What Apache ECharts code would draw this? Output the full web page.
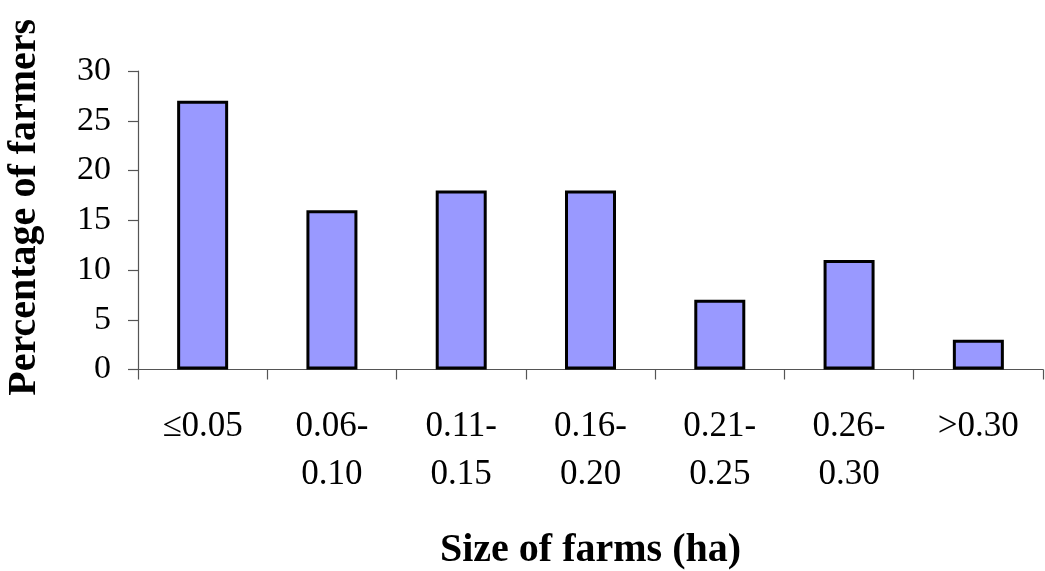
<!DOCTYPE html>
<html>
<head>
<meta charset="utf-8">
<script src="https://cdn.jsdelivr.net/npm/echarts@6/dist/echarts.min.js"></script>
<style>
html,body{margin:0;padding:0;background:#fff;}
#chart{width:1045px;height:571px;}
</style>
</head>
<body>
<div id="chart"></div>
<script>
const categories = ['\u22640.05', '0.06-\n0.10', '0.11-\n0.15', '0.16-\n0.20', '0.21-\n0.25', '0.26-\n0.30', '>0.30'];
const percentages = [27, 16, 18, 18, 7, 11, 3];
const yTicks = { min: 0, max: 30, interval: 5 };

const chart = echarts.init(document.getElementById('chart'));
const font = '"Liberation Serif", "Times New Roman", serif';
chart.setOption({
  animation: false,
  backgroundColor: '#ffffff',
  grid: { left: 138, right: 2, top: 71, bottom: 201.5, containLabel: false, outerBoundsMode: 'none' },
  xAxis: {
    type: 'category',
    data: categories,
    name: 'Size of farms (ha)',
    nameLocation: 'middle',
    nameGap: 161,
    nameTextStyle: { fontFamily: font, fontSize: 40, fontWeight: 'bold', color: '#000' },
    axisLine: { lineStyle: { color: '#555', width: 1.2 } },
    axisTick: { show: true, length: 10, lineStyle: { color: '#555', width: 1.2 } },
    axisLabel: { fontFamily: font, fontSize: 35, color: '#000', margin: 34, lineHeight: 47.5, interval: 0 }
  },
  yAxis: {
    type: 'value',
    min: yTicks.min, max: yTicks.max, interval: yTicks.interval,
    name: 'Percentage of farmers',
    nameLocation: 'middle',
    nameGap: 93,
    nameTextStyle: { fontFamily: font, fontSize: 40, fontWeight: 'bold', color: '#000', padding: [0, 0, 0, 26] },
    splitLine: { show: false },
    axisLine: { show: true, lineStyle: { color: '#555', width: 1.2 } },
    axisTick: { show: true, length: 10, lineStyle: { color: '#555', width: 1.2 } },
    axisLabel: { fontFamily: font, fontSize: 34, color: '#000', margin: 27 }
  },
  series: [{
    type: 'bar',
    data: percentages,
    barWidth: 51,
    itemStyle: { color: '#9999FF', borderColor: '#000', borderWidth: 3 }
  }]
});
</script>
</body>
</html>
